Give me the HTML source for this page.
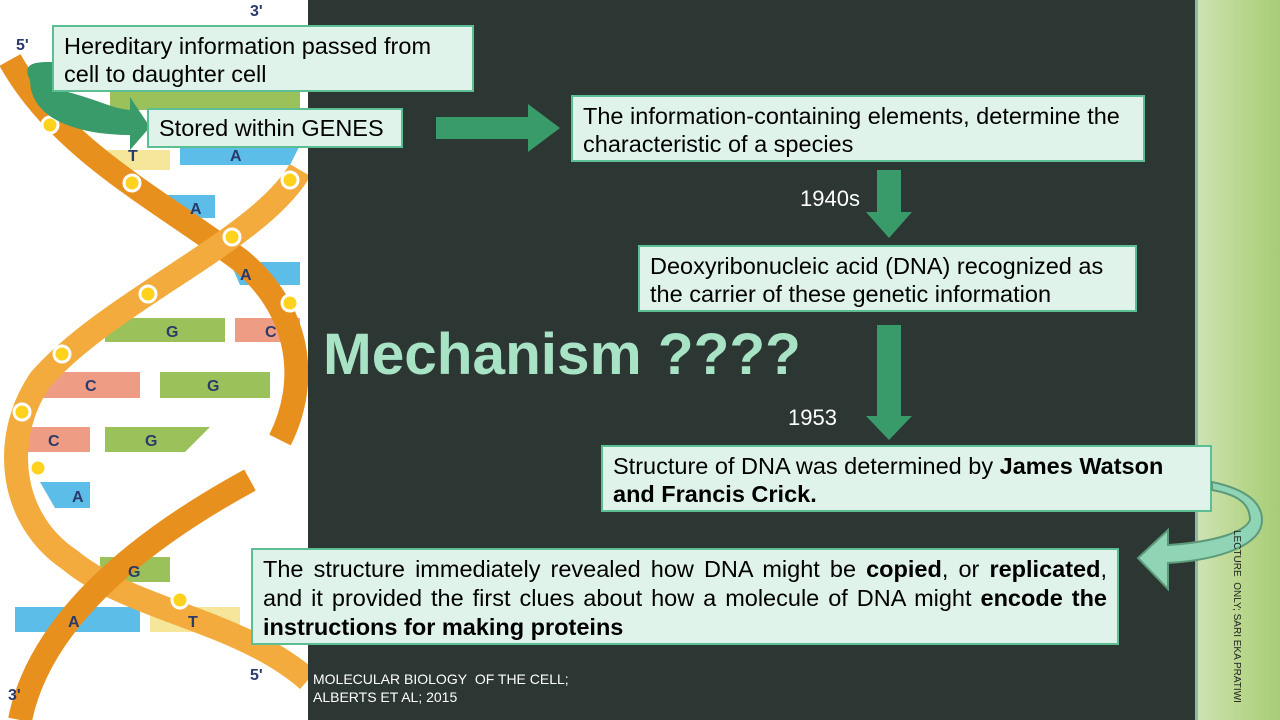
<!DOCTYPE html>
<html><head><meta charset="utf-8"><style>
body{margin:0;width:1280px;height:720px;overflow:hidden;background:#2c3632;position:relative;font-family:"Liberation Sans",sans-serif}
.box{position:absolute;background:#dff3ea;border:2px solid #5cbf94;box-sizing:border-box;font-size:23.5px;line-height:28px;color:#000;padding:5px 10px;white-space:nowrap}
.lbl{position:absolute;color:#fff;font-size:22px}
</style></head><body>
<div style="position:absolute;left:0;top:0;width:308px;height:720px;background:#fff"></div>
<div style="position:absolute;left:1195px;top:0;width:85px;height:720px;background:linear-gradient(90deg,#cfe3b6,#b7d68a 60%,#a7cc78)"></div>
<div style="position:absolute;left:1195px;top:0;width:3px;height:720px;background:#8fb9a0"></div>
<svg width="308" height="720" style="position:absolute;left:0;top:0">
<g stroke-width="0">
<polygon points="110,90 300,90 300,110 110,110" fill="#9bc25a"/>
<polygon points="100,150 170,150 170,170 100,170" fill="#f6e69a"/>
<polygon points="180,145 300,145 290,165 180,165" fill="#5bbde8"/>
<polygon points="150,195 215,195 215,218 170,218" fill="#5bbde8"/>
<polygon points="230,262 300,262 300,285 240,285" fill="#5bbde8"/>
<polygon points="105,318 225,318 225,342 105,342" fill="#9bc25a"/>
<polygon points="235,318 300,318 300,342 235,342" fill="#ef9c85"/>
<polygon points="40,372 140,372 140,398 40,398" fill="#ef9c85"/>
<polygon points="160,372 270,372 270,398 160,398" fill="#9bc25a"/>
<polygon points="15,427 90,427 90,452 15,452" fill="#ef9c85"/>
<polygon points="105,427 210,427 185,452 105,452" fill="#9bc25a"/>
<polygon points="40,482 90,482 90,508 55,508" fill="#5bbde8"/>
<polygon points="100,557 170,557 170,582 100,582" fill="#9bc25a"/>
<polygon points="15,607 140,607 140,632 15,632" fill="#5bbde8"/>
<polygon points="150,607 240,607 240,632 150,632" fill="#f6e69a"/>
</g>
<path d="M10,60 C60,150 160,200 240,260 C300,310 310,380 280,440" stroke="#e8901e" stroke-width="24" fill="none"/>
<path d="M300,170 C260,240 110,300 40,380 C0,440 10,520 70,560 C130,610 240,620 308,680" stroke="#f2ab3c" stroke-width="24" fill="none"/>
<path d="M20,720 C40,620 140,540 250,480" stroke="#e8901e" stroke-width="24" fill="none"/>
<g fill="#ffd21e" stroke="#fff" stroke-width="3">
<circle cx="50" cy="125" r="8"/><circle cx="132" cy="183" r="8"/><circle cx="232" cy="237" r="8"/><circle cx="290" cy="180" r="8"/><circle cx="148" cy="294" r="8"/><circle cx="62" cy="354" r="8"/><circle cx="22" cy="412" r="8"/><circle cx="38" cy="468" r="8"/><circle cx="180" cy="600" r="8"/><circle cx="290" cy="303" r="8"/></g>
<g font-family="Liberation Sans" font-weight="bold" font-size="16" fill="#2a3a6a"><text x="250" y="16">3'</text><text x="16" y="50">5'</text><text x="250" y="680">5'</text><text x="8" y="700">3'</text>
<text x="128" y="161">T</text><text x="230" y="161">A</text><text x="190" y="214">A</text><text x="240" y="280">A</text><text x="166" y="337">G</text><text x="265" y="337">C</text><text x="85" y="391">C</text><text x="207" y="391">G</text><text x="48" y="446">C</text><text x="145" y="446">G</text><text x="72" y="502">A</text><text x="128" y="577">G</text><text x="68" y="627">A</text><text x="188" y="627">T</text></g>
<path d="M30,80 C20,60 40,62 60,62 L60,90 C100,100 110,108 130,110 L130,97 L150,127 L130,150 L130,135 C80,135 30,120 30,80Z" fill="#3a9b6a"/>
</svg>
<div class="box" style="left:52px;top:25px;width:422px;height:67px">Hereditary information passed from<br>cell to daughter cell</div>
<div class="box" style="left:147px;top:108px;width:256px;height:40px;padding-top:4px">Stored within GENES</div>
<div class="box" style="left:571px;top:95px;width:574px;height:67px">The information-containing elements, determine the<br>characteristic of a species</div>
<div class="box" style="left:638px;top:245px;width:499px;height:67px">Deoxyribonucleic acid (DNA) recognized as<br>the carrier of these genetic information</div>
<div class="box" style="left:601px;top:445px;width:611px;height:67px">Structure of DNA was determined by <b>James Watson<br>and Francis Crick.</b></div>
<div class="box" style="left:251px;top:548px;width:868px;height:97px;line-height:29px;white-space:normal;text-align:justify;text-align-last:left">The structure immediately revealed how DNA might be <b>copied</b>, or <b>replicated</b>, and it provided the first clues about how a molecule of DNA might <b>encode the instructions for making proteins</b></div>
<svg width="1280" height="720" style="position:absolute;left:0;top:0">
<polygon points="436,117 528,117 528,104 560,128 528,152 528,139 436,139" fill="#3a9b6a"/>
<polygon points="877,170 901,170 901,212 912,212 889,238 866,212 877,212" fill="#3a9b6a"/>
<polygon points="877,325 901,325 901,416 912,416 889,440 866,416 877,416" fill="#3a9b6a"/>
<path d="M1212,482 C1250,490 1262,505 1262,520 C1262,545 1220,560 1168,563 L1168,589 L1138,558 L1168,530 L1168,545 C1215,542 1245,532 1250,520 C1250,505 1240,495 1212,490Z" fill="#8fd4b4" stroke="#5c9a7a" stroke-width="2"/>
</svg>
<div style="position:absolute;left:323px;top:321px;font-size:58.5px;font-weight:bold;color:#a9e3c6;white-space:nowrap">Mechanism ????</div>
<div class="lbl" style="left:800px;top:186px">1940s</div>
<div class="lbl" style="left:788px;top:405px">1953</div>
<div style="position:absolute;left:313px;top:670px;color:#fff;font-size:14px;line-height:18px">MOLECULAR BIOLOGY&nbsp; OF THE CELL;<br>ALBERTS ET AL; 2015</div>
<div style="position:absolute;left:1231px;top:530px;writing-mode:vertical-rl;font-size:10px;color:#222;white-space:nowrap">LECTURE&nbsp; ONLY; SARI EKA PRATIWI</div>
</body></html>
